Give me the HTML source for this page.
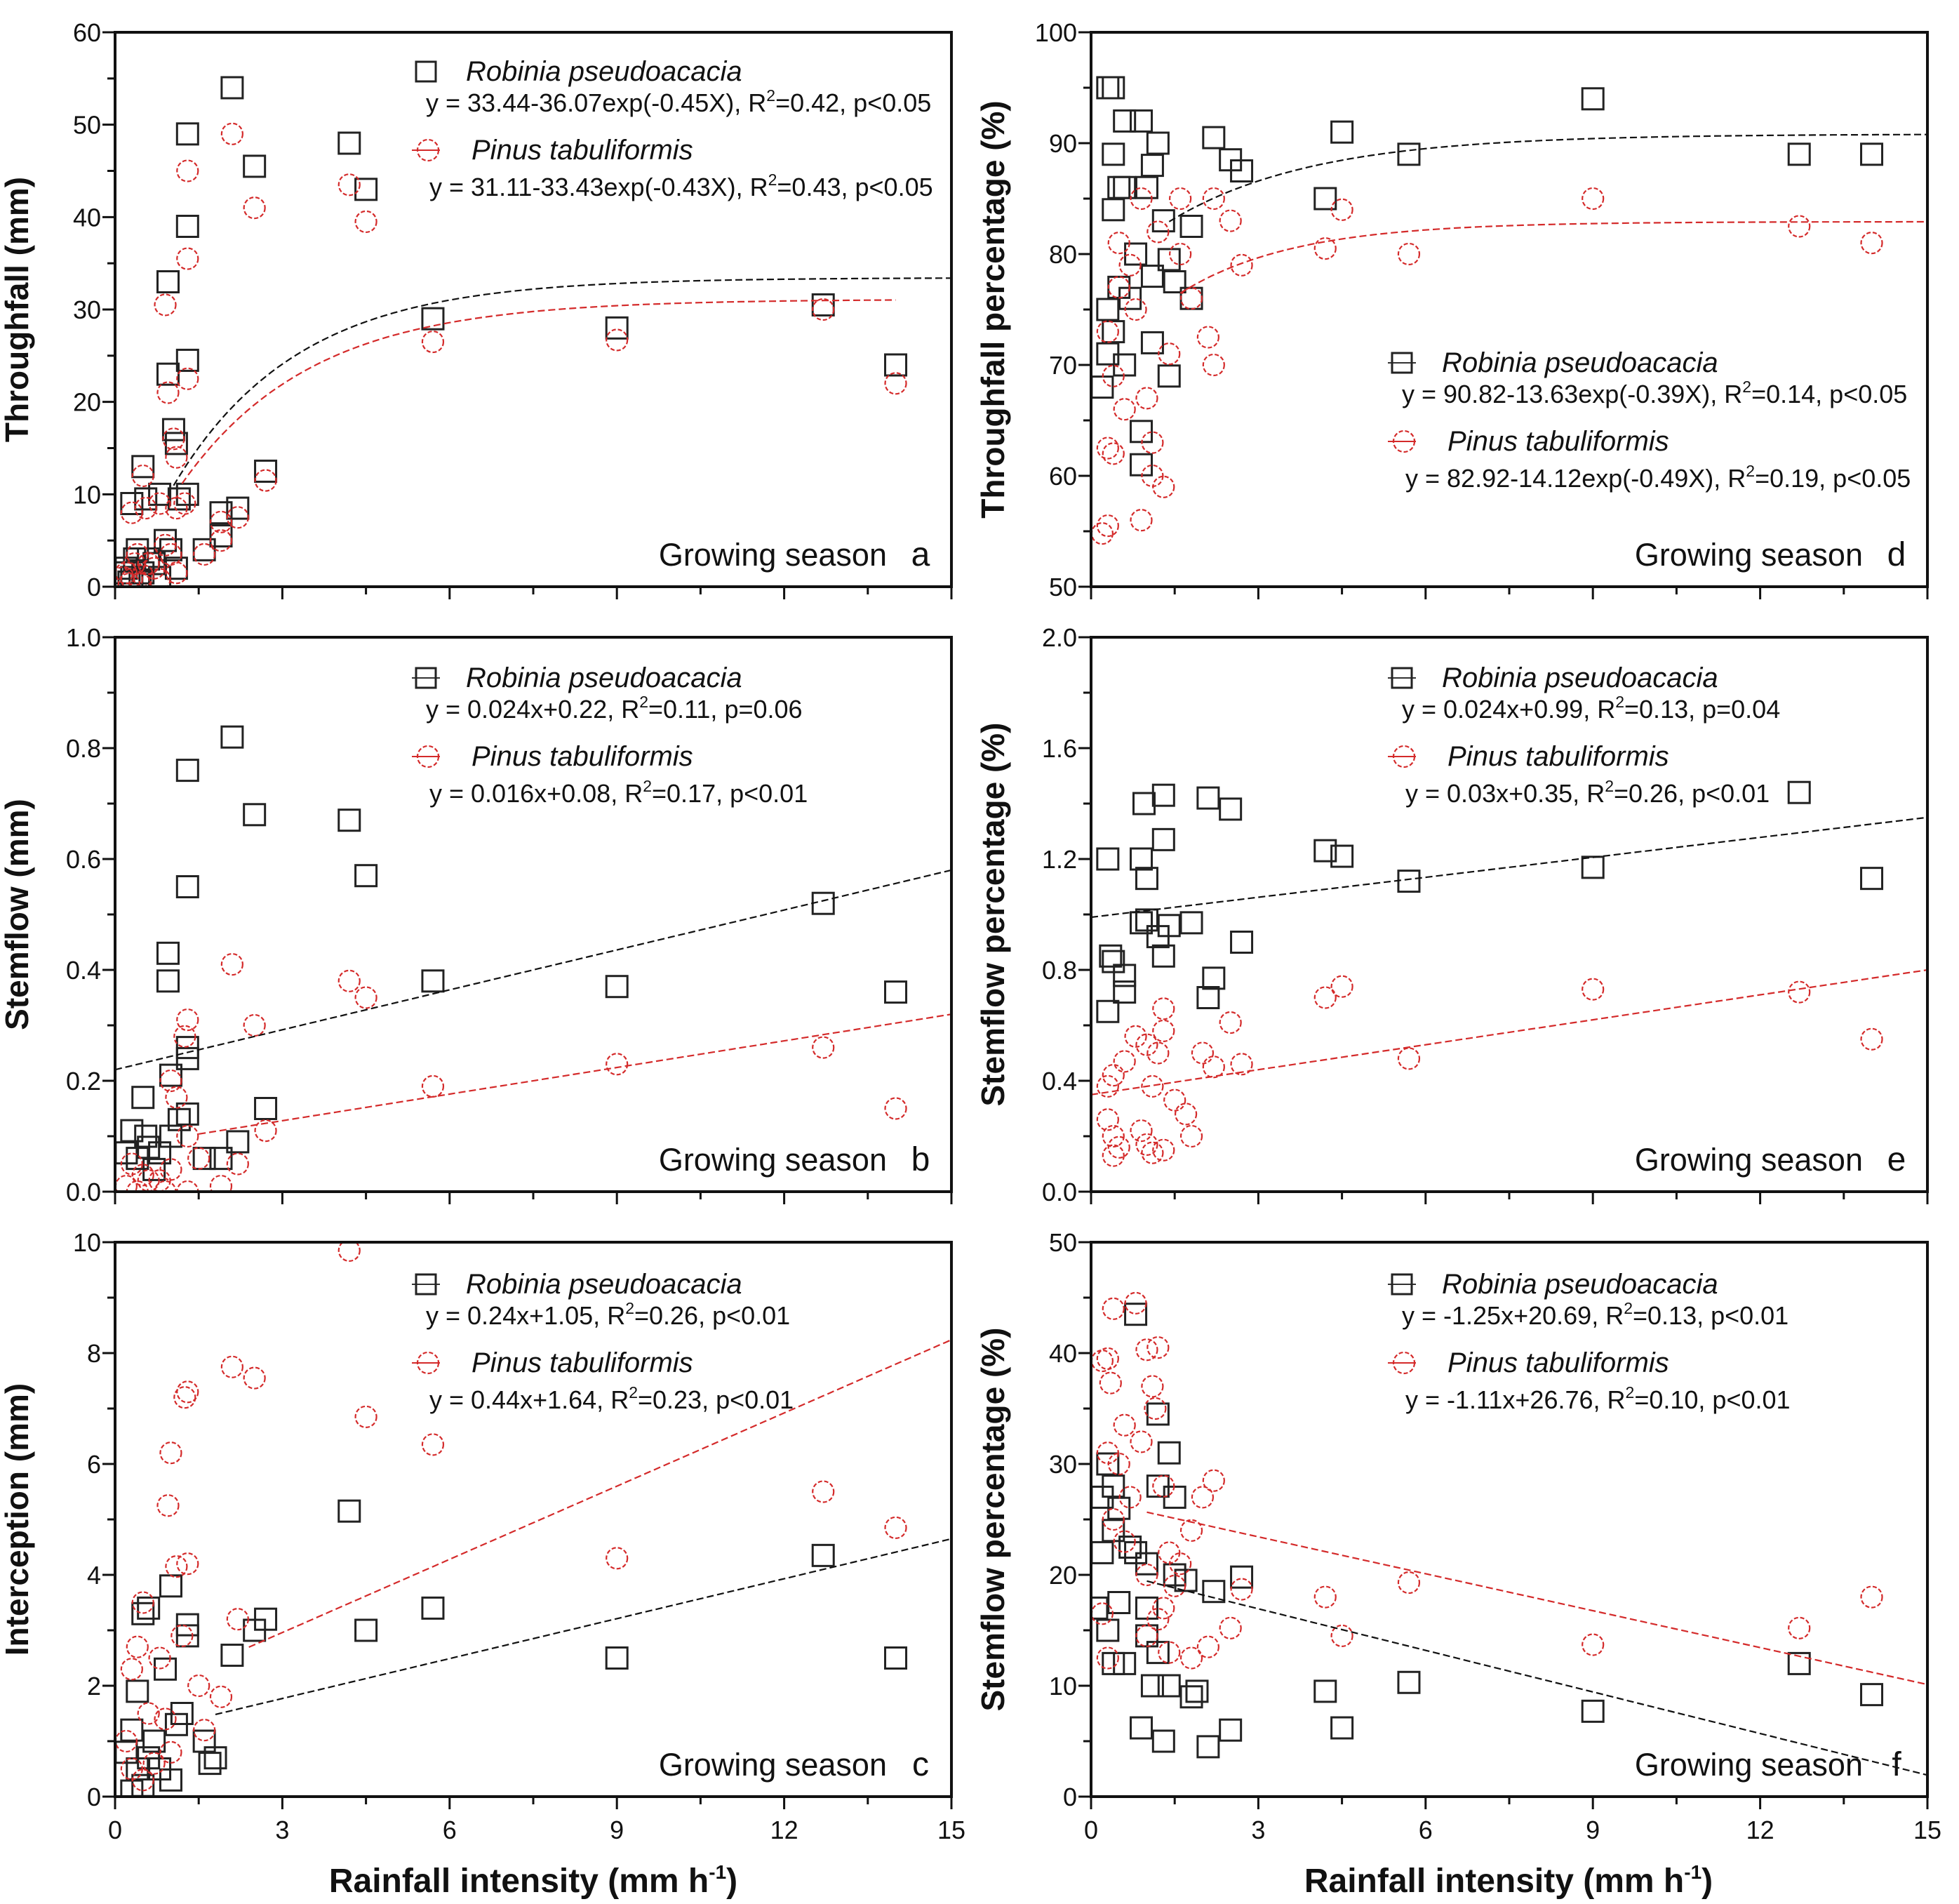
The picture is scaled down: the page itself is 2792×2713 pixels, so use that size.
<!DOCTYPE html>
<html><head><meta charset="utf-8"><style>
html,body{margin:0;padding:0;background:#fff;}
svg{display:block;font-family:"Liberation Sans",Arial,sans-serif;}
</style></head><body>
<svg id="fig" width="2792" height="2713" viewBox="0 0 2792 2713" xmlns="http://www.w3.org/2000/svg"></svg>
<script>
// ---- data (x = rainfall intensity mm/h) ----
const aRpX=[2.1,1.3,4.2,2.5,4.5,1.3,0.95,1.3,0.95,1.05,1.1,0.5,5.7,12.7,14,2.7,9,1.3,1.15,0.3,0.55,0.8,1.9,2.2,1.6,1.9,0.4,0.6,0.2,0.3,0.5,0.7,0.9,1.0,0.35,0.45,0.25,0.8,1.1,0.15];
const aRpY=[54,49,48,45.5,43,39,33,24.5,23,17,15.5,13,29,30.5,24,12.5,28,10,9.5,9,9.5,10,8,8.5,4,5.5,4,3,2,1,1.5,2.5,5,4,3,0.5,0.5,1,2,1.5];
const aPtX=[2.1,1.3,4.2,2.5,4.5,1.3,0.9,1.3,0.95,1.05,1.1,0.5,5.7,12.7,14,2.7,9,1.25,1.1,0.3,0.55,0.8,1.9,2.2,1.6,1.9,0.4,0.6,0.2,0.3,0.5,0.7,0.9,1.0,0.35,0.45,0.25,0.8,1.1,0.15];
const aPtY=[49,45,43.5,41,39.5,35.5,30.5,22.5,21,16,14,12,26.5,30,22,11.5,26.7,9,8.5,8,8.5,9,7,7.5,3.5,5,3.5,2.5,1.5,0.8,1.2,2,4.5,3.5,2.5,0.3,0.3,0.8,1.5,1];
const bRpX=[2.1,1.3,2.5,4.2,4.5,1.3,0.95,0.95,5.7,9,12.7,14,1.3,1.3,1.0,0.5,2.7,1.3,1.15,0.3,0.55,0.8,1.9,2.2,1.6,0.4,0.2,0.6,1.0,0.7];
const bRpY=[0.82,0.76,0.68,0.67,0.57,0.55,0.43,0.38,0.38,0.37,0.52,0.36,0.26,0.24,0.21,0.17,0.15,0.14,0.13,0.11,0.1,0.07,0.06,0.09,0.06,0.06,0.07,0.08,0.1,0.04];
const bPtX=[2.1,4.2,4.5,2.5,1.3,1.25,5.7,9,12.7,14,1.0,1.1,2.7,1.3,0.3,0.5,0.8,1.0,1.9,2.2,0.2,0.4,0.6,1.5,0.9,1.3];
const bPtY=[0.41,0.38,0.35,0.3,0.31,0.28,0.19,0.23,0.26,0.15,0.2,0.17,0.11,0.1,0.05,0.03,0.02,0.04,0.01,0.05,0.01,0.0,0.02,0.06,0.0,0.0];
const cRpX=[4.2,5.7,4.5,9,12.7,14,2.7,2.5,2.1,1.3,1.3,1.0,0.5,0.6,0.9,1.1,0.4,0.3,1.8,1.7,1.6,0.2,0.6,0.8,1.0,0.4,0.3,0.5,1.2,0.7];
const cRpY=[5.15,3.4,3.0,2.5,4.35,2.5,3.2,3.0,2.55,3.1,2.9,3.8,3.3,3.4,2.3,1.3,1.9,1.2,0.7,0.6,1.0,0.8,0.7,0.5,0.3,0.5,0.1,0.2,1.5,1.0];
const cPtX=[4.2,2.1,2.5,1.3,1.25,4.5,5.7,1.0,0.95,12.7,14,9,1.3,1.1,0.5,0.4,2.2,1.2,0.3,0.8,1.5,1.9,0.6,0.2,0.3,1.0,0.7,0.5,1.6,0.9];
const cPtY=[9.85,7.75,7.55,7.3,7.2,6.85,6.35,6.2,5.25,5.5,4.85,4.3,4.2,4.15,3.5,2.7,3.2,2.9,2.3,2.5,2.0,1.8,1.5,1.0,0.5,0.8,0.6,0.3,1.2,1.4];
const dRpX=[0.3,0.4,0.6,0.9,1.2,2.2,2.5,2.7,0.4,1.1,4.2,4.5,5.7,9,12.7,14,0.6,0.5,1.0,0.4,1.8,1.4,0.8,1.1,1.5,0.5,0.4,1.1,1.4,0.3,0.6,0.9,0.9,0.3,0.7,1.8,0.2,1.3];
const dRpY=[95,95,92,92,90,90.5,88.5,87.5,89,88,85,91,89,94,89,89,86,86,86,84,82.5,79.5,80,78,77.5,77,73,72,69,71,70,64,61,75,76,76,68,83];
const dPtX=[9,12.7,14,4.2,4.5,5.7,2.7,2.5,2.2,2.1,2.2,1.8,1.6,1.2,0.7,0.5,0.3,0.4,0.6,0.4,0.3,1.1,1.1,1.3,0.9,0.3,0.2,1.0,0.8,1.4,0.5,0.9,1.6];
const dPtY=[85,82.5,81,80.5,84,80,79,83,85,72.5,70,76,85,82,79,81,73,69,66,62,62.5,63,60,59,56,55.5,54.8,67,75,71,77,85,80];
const eRpX=[1.3,2.1,2.5,0.95,12.7,1.3,4.2,4.5,0.3,0.9,1.0,9,5.7,14,1.0,0.9,1.4,1.8,2.7,1.3,0.35,0.4,0.6,2.2,2.1,0.6,0.3,1.2];
const eRpY=[1.43,1.42,1.38,1.4,1.44,1.27,1.23,1.21,1.2,1.2,1.13,1.17,1.12,1.13,0.98,0.97,0.96,0.97,0.9,0.85,0.85,0.83,0.78,0.77,0.7,0.72,0.65,0.92];
const ePtX=[9,12.7,4.5,4.2,14,5.7,2.7,2.5,2.2,2.0,1.3,1.3,1.2,1.0,0.8,0.6,0.4,0.3,0.3,0.4,0.5,0.4,0.9,1.0,1.1,1.3,1.7,1.8,1.5,1.1];
const ePtY=[0.73,0.72,0.74,0.7,0.55,0.48,0.46,0.61,0.45,0.5,0.66,0.58,0.5,0.53,0.56,0.47,0.42,0.38,0.26,0.2,0.16,0.13,0.22,0.17,0.14,0.15,0.28,0.2,0.33,0.38];
const fRpX=[0.8,1.2,1.4,0.3,0.4,0.2,1.2,1.5,0.5,0.4,0.7,0.8,0.2,1.0,1.5,1.7,2.7,2.2,0.1,0.5,1.0,0.3,0.4,0.6,1.2,1.0,1.4,1.8,1.9,0.9,1.3,2.1,2.5,4.2,4.5,5.7,9,12.7,14,1.1];
const fRpY=[43.5,34.5,31,30,28,27,28,27,26,24,22.5,22,22,21,20,19.5,19.8,18.5,17,17.5,17,15,12,12,13,14.5,10,9,9.5,6.2,5,4.5,6,9.5,6.2,10.3,7.7,12,9.2,10];
const fPtX=[0.8,0.4,0.3,0.2,0.35,1.2,1.0,1.1,1.15,0.6,0.9,0.3,0.5,1.3,2.2,2.0,1.8,0.7,0.4,0.6,1.4,1.6,1.0,1.5,1.2,1.3,2.5,1.0,1.4,2.1,1.8,2.7,4.2,4.5,5.7,9,12.7,14,0.3,0.2];
const fPtY=[44.5,44,39.5,39.3,37.3,40.5,40.3,37,35,33.5,32,31,30,28,28.5,27,24,27,25,23,22,21,20,19,16,17,15.2,14.5,13,13.5,12.5,18.7,18,14.5,19.3,13.7,15.2,18,12.5,16.5];
const xTicks=[0,3,6,9,12,15];
const xTickLabels=["0","3","6","9","12","15"];
const aYTicks=[0,10,20,30,40,50,60];
const bYTicks=[0,0.2,0.4,0.6,0.8,1.0];
const bYLabels=["0.0","0.2","0.4","0.6","0.8","1.0"];
const cYTicks=[0,2,4,6,8,10];
const dYTicks=[50,60,70,80,90,100];
const eYTicks=[0,0.4,0.8,1.2,1.6,2.0];
const eYLabels=["0.0","0.4","0.8","1.2","1.6","2.0"];
const fYTicks=[0,10,20,30,40,50];

const NS="http://www.w3.org/2000/svg";
const svg=document.getElementById('fig');
function mk(tag,attrs,parent){const e=document.createElementNS(NS,tag);for(const k in attrs)e.setAttribute(k,attrs[k]);(parent||svg).appendChild(e);return e;}

function panel(o){
  const g=mk('g',{});
  
  
  const L=o.x0,R=o.x0+1192,T=o.y0,B=o.y0+790;
  const sx=v=>L+(v-0)/15*(R-L);
  const sy=v=>B-(v-o.ymin)/(o.ymax-o.ymin)*(B-T);
  const cid='clip'+o.id;
  const cp=mk('clipPath',{id:cid},g);mk('rect',{x:L,y:T,width:R-L,height:B-T},cp);
  const pg=mk('g',{'clip-path':'url(#'+cid+')'},g);
  o.rpX.forEach((xv,i)=>{
    const r=mk('rect',{x:sx(xv)-15,y:sy(o.rpY[i])-15,width:30,height:30,fill:'none',stroke:'#222','stroke-width':3},pg);
    
    
  });
  o.ptX.forEach((xv,i)=>{
    const c=mk('circle',{cx:sx(xv),cy:sy(o.ptY[i]),r:15,fill:'none',stroke:'#d42a2a','stroke-width':2.2,'stroke-dasharray':'6 3'},pg);
    
    
  });
  [['rp',o.fitRp,'#111',o.rpRange],['pt',o.fitPt,'#d42a2a',o.ptRange]].forEach(f=>{
    let d='';const n=120;
    for(let i=0;i<=n;i++){const xv=f[3][0]+(f[3][1]-f[3][0])*i/n;d+=(i?'L':'M')+sx(xv).toFixed(1)+','+sy(f[1](xv)).toFixed(1);}
    const p=mk('path',{d:d,fill:'none',stroke:f[2],'stroke-width':2.2,'stroke-dasharray':'10 5'},pg);
    
    
  });
  const fr=mk('rect',{x:L,y:T,width:R-L,height:B-T,fill:'none',stroke:'#111','stroke-width':4},g);
  
  
  for(let v=0;v<=15.01;v+=1.5){
    const maj=Math.abs(v/3-Math.round(v/3))<1e-6;
    mk('line',{x1:sx(v),x2:sx(v),y1:B,y2:B+(maj?18:11),stroke:'#111','stroke-width':3},g);
  }
  if(o.xlabels){xTicks.forEach((v,i)=>{const t=mk('text',{x:sx(v),y:B+60,'font-size':36,'text-anchor':'middle',fill:'#111'},g);t.textContent=xTickLabels[i];
    });}
  const step=o.yt[1]-o.yt[0];
  for(let k=0;k<o.yt.length*2-1;k++){
    const v=o.yt[0]+k*step/2;const maj=k%2===0;
    mk('line',{x1:L,x2:L-(maj?18:11),y1:sy(v),y2:sy(v),stroke:'#111','stroke-width':3},g);
  }
  o.yt.forEach((v,i)=>{const t=mk('text',{x:L-20,y:sy(v)+13,'font-size':36,'text-anchor':'end',fill:'#111'},g);t.textContent=o.yl?o.yl[i]:String(v);
    });
  const yt=mk('text',{x:0,y:0,'font-size':46,'font-weight':'bold','text-anchor':'middle',fill:'#111',transform:'translate('+(L-124)+','+((T+B)/2)+') rotate(-90)'},g);
  yt.textContent=o.ytitle;
  const lx=L+o.lx, ly=T+o.ly;
  const lg=mk('g',{},g);
  if(o.legLine){mk('line',{x1:lx-20,x2:lx+20,y1:ly,y2:ly,stroke:'#333','stroke-width':2},lg);}
  mk('rect',{x:lx-14,y:ly-14,width:28,height:28,fill:'none',stroke:'#222','stroke-width':3},lg);
  let t=mk('text',{x:lx+57,y:ly+13,'font-size':40,'font-style':'italic',fill:'#111'},lg);t.textContent='Robinia pseudoacacia';
  t=mk('text',{x:lx+o.e1x,y:ly+57,'font-size':36,fill:'#111'},lg);t.innerHTML=o.eq1;
  const ly2=ly+112;
  mk('line',{x1:lx-20,x2:lx+20,y1:ly2,y2:ly2,stroke:'#d42a2a','stroke-width':2},lg);
  mk('circle',{cx:lx+3,cy:ly2,r:15,fill:'none',stroke:'#d42a2a','stroke-width':2.2,'stroke-dasharray':'6 3'},lg);
  t=mk('text',{x:lx+65,y:ly2+13,'font-size':40,'font-style':'italic',fill:'#111'},lg);t.textContent='Pinus tabuliformis';
  t=mk('text',{x:lx+o.e2x,y:ly2+65,'font-size':36,fill:'#111'},lg);t.innerHTML=o.eq2;
  t=mk('text',{x:R-92,y:B-30,'font-size':45,'text-anchor':'end',fill:'#111'},g);t.textContent='Growing season';
  
  t=mk('text',{x:R-44,y:B-30,'font-size':48,'text-anchor':'middle',fill:'#111'},g);t.textContent=o.id;
  
}
const sup2='R<tspan font-size="23" dy="-15">2</tspan><tspan dy="15">';
function eq(a,b){return a+', '+sup2+b+'</tspan>';}
panel({id:'a',x0:164,y0:46,ymin:0,ymax:60,yt:aYTicks,rpX:aRpX,rpY:aRpY,ptX:aPtX,ptY:aPtY,
 fitRp:x=>33.44-36.07*Math.exp(-0.45*x),fitPt:x=>31.11-33.43*Math.exp(-0.43*x),rpRange:[1.05,15],ptRange:[1.2,14],
 ytitle:'Throughfall (mm)',lx:443,ly:56,legLine:false,e1x:0,e2x:5,
 eq1:eq('y = 33.44-36.07exp(-0.45X)','=0.42, p&lt;0.05'),eq2:eq('y = 31.11-33.43exp(-0.43X)','=0.43, p&lt;0.05')});
panel({id:'b',x0:164,y0:908,ymin:0,ymax:1,yt:bYTicks,yl:bYLabels,rpX:bRpX,rpY:bRpY,ptX:bPtX,ptY:bPtY,
 fitRp:x=>0.024*x+0.22,fitPt:x=>0.016*x+0.08,rpRange:[0,15],ptRange:[1.5,15],
 ytitle:'Stemflow (mm)',lx:443,ly:58,legLine:true,e1x:0,e2x:5,
 eq1:eq('y = 0.024x+0.22','=0.11, p=0.06'),eq2:eq('y = 0.016x+0.08','=0.17, p&lt;0.01')});
panel({id:'c',x0:164,y0:1770,ymin:0,ymax:10,yt:cYTicks,rpX:cRpX,rpY:cRpY,ptX:cPtX,ptY:cPtY,xlabels:true,
 fitRp:x=>0.24*x+1.05,fitPt:x=>0.44*x+1.64,rpRange:[1.8,15],ptRange:[2.4,15],
 ytitle:'Interception (mm)',lx:443,ly:60,legLine:true,e1x:0,e2x:5,
 eq1:eq('y = 0.24x+1.05','=0.26, p&lt;0.01'),eq2:eq('y = 0.44x+1.64','=0.23, p&lt;0.01')});
panel({id:'d',x0:1555,y0:46,ymin:50,ymax:100,yt:dYTicks,rpX:dRpX,rpY:dRpY,ptX:dPtX,ptY:dPtY,
 fitRp:x=>90.82-13.63*Math.exp(-0.39*x),fitPt:x=>82.92-14.12*Math.exp(-0.49*x),rpRange:[1.4,15],ptRange:[1.6,15],
 ytitle:'Throughfall percentage (%)',lx:443,ly:471,legLine:true,e1x:0,e2x:5,
 eq1:eq('y = 90.82-13.63exp(-0.39X)','=0.14, p&lt;0.05'),eq2:eq('y = 82.92-14.12exp(-0.49X)','=0.19, p&lt;0.05')});
panel({id:'e',x0:1555,y0:908,ymin:0,ymax:2,yt:eYTicks,yl:eYLabels,rpX:eRpX,rpY:eRpY,ptX:ePtX,ptY:ePtY,
 fitRp:x=>0.024*x+0.99,fitPt:x=>0.03*x+0.35,rpRange:[0,15],ptRange:[0,15],
 ytitle:'Stemflow percentage (%)',lx:443,ly:58,legLine:true,e1x:0,e2x:5,
 eq1:eq('y = 0.024x+0.99','=0.13, p=0.04'),eq2:eq('y = 0.03x+0.35','=0.26, p&lt;0.01')});
panel({id:'f',x0:1555,y0:1770,ymin:0,ymax:50,yt:fYTicks,rpX:fRpX,rpY:fRpY,ptX:fPtX,ptY:fPtY,xlabels:true,
 fitRp:x=>-1.25*x+20.69,fitPt:x=>-1.11*x+26.76,rpRange:[1.0,15],ptRange:[1.0,15],
 ytitle:'Stemflow percentage (%)',lx:443,ly:60,legLine:true,e1x:0,e2x:5,
 eq1:eq('y = -1.25x+20.69','=0.13, p&lt;0.01'),eq2:eq('y = -1.11x+26.76','=0.10, p&lt;0.01')});
[760,2150].forEach(cx=>{
  const t=mk('text',{x:cx,y:2696,'font-size':48,'font-weight':'bold','text-anchor':'middle',fill:'#111'});
  t.innerHTML='Rainfall intensity (mm h<tspan font-size="28" dy="-19">-1</tspan><tspan dy="19">)</tspan>';
  
  
});
</script>
</body></html>
